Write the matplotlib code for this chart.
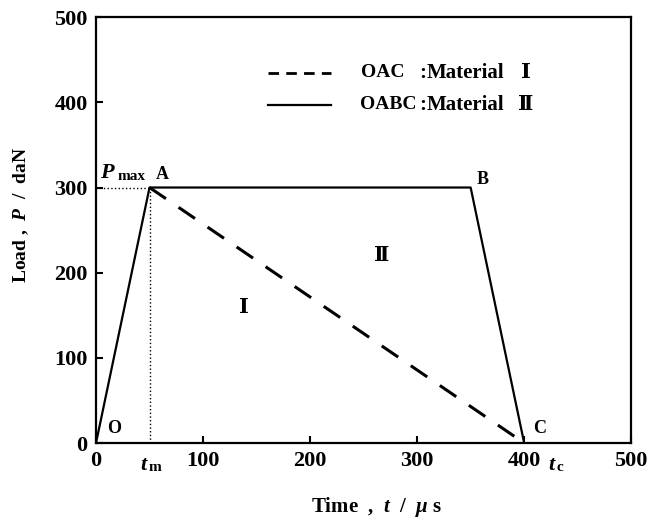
import matplotlib.pyplot as plt

# data
t_solid = [0, 50, 350, 400]      # O, A, B, C
p_solid = [0, 300, 300, 0]
t_dash = [50, 400]               # A, C  (O-A lies under the solid line)
p_dash = [300, 0]
t_m = 50
p_max = 300
xticks = [0, 100, 200, 300, 400, 500]
yticks = [0, 100, 200, 300, 400, 500]

serif = ['Liberation Serif', 'DejaVu Serif']
plt.rcParams['font.family'] = serif
plt.rcParams['font.weight'] = 'bold'
plt.rcParams['mathtext.fontset'] = 'custom'
plt.rcParams['mathtext.it'] = 'Liberation Serif:italic:bold'
plt.rcParams['mathtext.rm'] = 'Liberation Serif:bold'

fig = plt.figure(figsize=(6.64, 5.21), dpi=100)
ax = fig.add_axes([0.1446, 0.1497, 0.806, 0.8173])

dash = (0, (6.5, 5))
ax.plot(t_dash, p_dash, color='black', lw=2.2, ls=dash, dash_capstyle='butt')
ax.plot(t_solid, p_solid, color='black', lw=1.6)
ax.plot([0, t_m], [p_max, p_max], color='black', lw=1, ls=':')
ax.plot([t_m, t_m], [0, p_max], color='black', lw=1, ls=':')

ax.set_xlim(0, 500)
ax.set_ylim(0, 500)
ax.set_xticks(xticks)
ax.set_yticks(yticks)
ax.tick_params(direction='in', length=5, width=1.5, labelsize=16, pad=6)
for lab in ax.get_xticklabels() + ax.get_yticklabels():
    lab.set_fontweight('bold')
for s in ax.spines.values():
    s.set_linewidth(1.6)

# legend drawn by hand
ax.plot([161, 220], [435, 435], color='black', lw=2.0, ls=(0, (3.8, 2.6)))
ax.plot([161, 220], [397, 397], color='black', lw=1.6)
ax.text(248, 435, 'OAC', fontsize=14, va='center', fontweight='bold')
ax.text(302, 435, ':', fontsize=15, va='center', fontweight='bold')
ax.text(309, 435, 'Material', fontsize=15, va='center', fontweight='bold')
ax.text(397, 435, 'Ⅰ', fontsize=15, va='center', fontweight='bold')
ax.text(247, 397, 'OABC', fontsize=14, va='center', fontweight='bold')
ax.text(302, 397, ':', fontsize=15, va='center', fontweight='bold')
ax.text(309, 397, 'Material', fontsize=15, va='center', fontweight='bold')
ax.text(394, 397, 'Ⅱ', fontsize=15, va='center', fontweight='bold')

# point labels
ax.text(4, 305, r'$P$', fontsize=16, va='bottom')
ax.text(20, 305, 'max', fontsize=11, va='bottom', fontweight='bold')
ax.text(56, 305, 'A', fontsize=13, va='bottom', fontweight='bold')
ax.text(356, 299, 'B', fontsize=13, va='bottom', fontweight='bold')
ax.text(10, 17, 'O', fontsize=13, va='center', fontweight='bold')
ax.text(408, 17, 'C', fontsize=13, va='center', fontweight='bold')
ax.text(138, 158, 'Ⅰ', fontsize=15, ha='center', va='center', fontweight='bold')
ax.text(267, 220, 'Ⅱ', fontsize=15, ha='center', va='center', fontweight='bold')
ax.text(t_m - 1, -14, r'$t$', fontsize=16, ha='right', va='top')
ax.text(t_m - 1, -21, 'm', fontsize=11, ha='left', va='top', fontweight='bold')
ax.text(430, -14, r'$t$', fontsize=16, ha='right', va='top')
ax.text(430, -21, 'c', fontsize=11, ha='left', va='top', fontweight='bold')

ax.set_xlabel(r'Time  ,  $t$  /  $\mu$ s', fontsize=15, fontweight='bold')
ax.set_ylabel(r'Load ,  $P$  /  daN', fontsize=14, fontweight='bold')
ax.xaxis.set_label_coords(0.525, -0.150)
ax.yaxis.set_label_coords(-0.140, 0.535)
ax.xaxis.label.set_verticalalignment('center')
ax.yaxis.label.set_verticalalignment('center')

fig.savefig('out.png', dpi=100)
